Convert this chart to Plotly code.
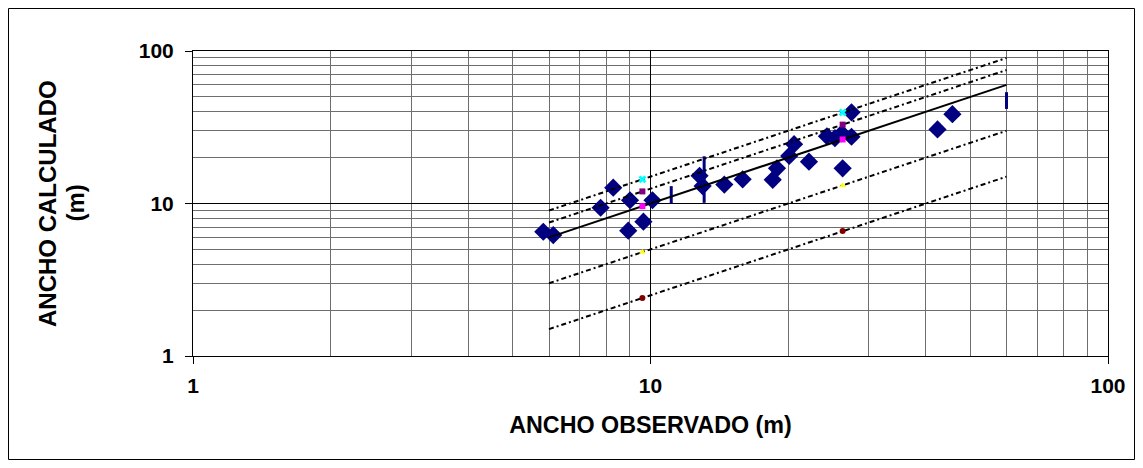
import plotly.graph_objects as go

# Observed vs calculated widths (diamonds)
x_obs = [5.83, 6.13, 7.78, 8.29, 8.94, 9.02, 9.65, 10.1, 12.8, 13.0, 14.5, 15.9,
         18.5, 18.9, 20.1, 20.6, 22.2, 24.3, 25.3, 26.2, 26.3, 27.5, 27.5, 42.4, 45.7]
y_calc = [6.53, 6.21, 9.38, 12.7, 6.63, 10.5, 7.6, 10.5, 15.2, 13.0, 13.3, 14.4,
          14.3, 17.0, 20.5, 24.5, 18.8, 27.6, 26.8, 28.8, 17.0, 27.4, 39.6, 30.6, 38.5]

# Reference lines (two end points each)
line_x = [6, 60]
line_150 = [9, 90]
line_125 = [7.5, 75]
line_100 = [6, 60]
line_050 = [3, 30]
line_025 = [1.5, 15]

# Small marker series
mark_x = [9.6, 26.3]
mark_cyan = [14.4, 39.5]
mark_purple = [12.0, 32.9]
mark_magenta = [9.6, 26.3]
mark_yellow = [4.8, 13.1]
mark_darkred = [2.4, 6.6]

# Vertical range bars
bar_x = [11.1, 13.1, 60]
bar_lo = [10.0, 10.1, 41.7]
bar_hi = [13.0, 20.4, 53.7]

tick_vals = [1, 10, 100]
tick_text = ["1", "10", "100"]
minor_vals = [2, 3, 4, 5, 6, 7, 8, 9, 20, 30, 40, 50, 60, 70, 80, 90]

x_title = "ANCHO OBSERVADO (m)"
y_title_lines = ["ANCHO CALCULADO", "(m)"]

NAVY = "#000080"
FONT = "Liberation Sans, Arial, sans-serif"

# page is rendered with an 8px body margin; plot area sits at 193..1108 x 51..356
PW, PH = 915, 305


def px_x(p):
    return (p - 193) / PW


def px_y(p):
    return (356 - p) / PH


fig = go.Figure()

fig.add_trace(go.Scatter(x=x_obs, y=y_calc, mode="markers",
                         marker=dict(symbol="diamond", size=14, color=NAVY,
                                     line=dict(width=0)),
                         showlegend=False))

bx, by = [], []
for xv, lo, hi in zip(bar_x, bar_lo, bar_hi):
    bx += [xv, xv, None]
    by += [lo, hi, None]
fig.add_trace(go.Scatter(x=bx, y=by, mode="lines",
                         line=dict(color=NAVY, width=3), showlegend=False))

dash_style = "5px,3px,2px,3px"
for ys, dash in [(line_150, dash_style), (line_125, dash_style), (line_100, "solid"),
                 (line_050, dash_style), (line_025, dash_style)]:
    fig.add_trace(go.Scatter(x=line_x, y=ys, mode="lines",
                             line=dict(color="black", width=2, dash=dash),
                             showlegend=False))

for ys, sym, col, sz in [(mark_magenta, "square", "#FF00FF", 6),
                         (mark_yellow, "triangle-up", "#FFFF00", 6),
                         (mark_cyan, "x", "#00FFFF", 7),
                         (mark_purple, "square", "#800080", 6),
                         (mark_darkred, "circle", "#800000", 6)]:
    fig.add_trace(go.Scatter(x=mark_x, y=ys, mode="markers",
                             marker=dict(symbol=sym, size=sz, color=col,
                                         line=dict(width=0)),
                             showlegend=False))

axis_common = dict(
    type="log", range=[0, 2], tickmode="array", tickvals=tick_vals, ticktext=tick_text,
    showgrid=True, gridcolor="black", gridwidth=1,
    showline=True, linecolor="black", linewidth=1, mirror=True,
    ticks="outside", ticklen=7, tickcolor="black",
    tickfont=dict(family=FONT, size=21, color="black", weight="bold"),
    minor=dict(tickmode="array", tickvals=minor_vals, showgrid=True,
               gridcolor="#6e6e6e", gridwidth=1, ticks=""),
    zeroline=False,
)

fig.update_xaxes(**axis_common, ticklabelstandoff=4,
                 title=dict(text=x_title, standoff=20,
                            font=dict(family=FONT, size=23.3, color="black", weight="bold")))
fig.update_yaxes(**axis_common, ticklabelstandoff=7)

for txt, cx in zip(y_title_lines, [47.5, 75]):
    fig.add_annotation(text=txt, xref="paper", yref="paper",
                       x=px_x(cx), y=0.5, xanchor="center", yanchor="middle",
                       textangle=-90, showarrow=False,
                       font=dict(family=FONT, size=24, color="black", weight="bold"))

# outer chart border
fig.add_shape(type="rect", xref="paper", yref="paper",
              x0=px_x(8.5), x1=px_x(1134.5), y0=px_y(459.5), y1=px_y(8.5),
              line=dict(color="black", width=1), fillcolor="rgba(0,0,0,0)", layer="below")

fig.update_layout(
    width=1135, height=460,
    margin=dict(l=185, r=35, t=43, b=112),
    paper_bgcolor="white", plot_bgcolor="white",
    font=dict(family=FONT, color="black"),
    showlegend=False,
)

fig.write_html("out.html")
